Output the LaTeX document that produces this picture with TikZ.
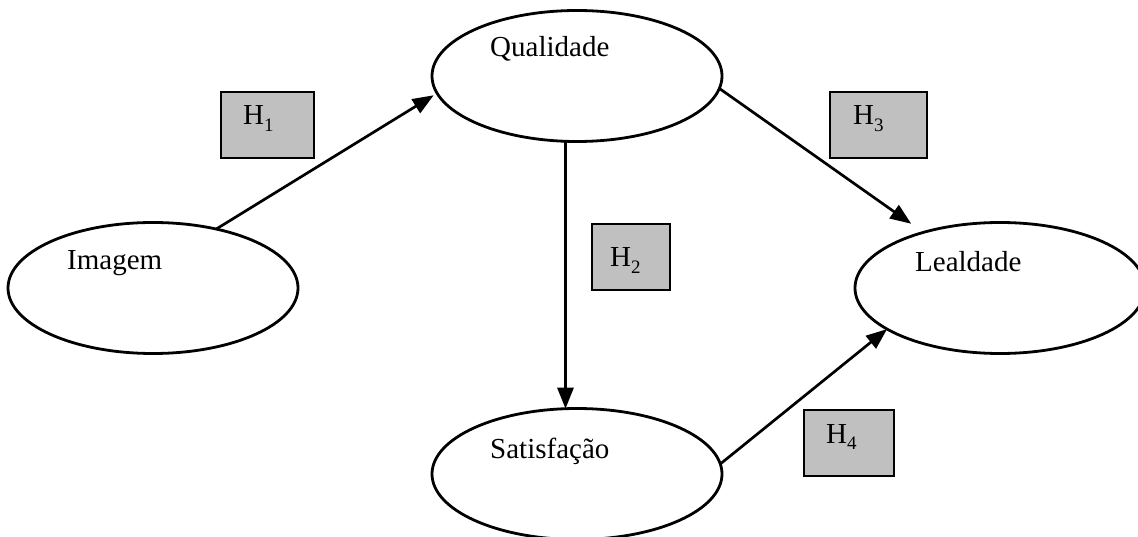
\documentclass[tikz,border=0pt]{standalone}
\usepackage{fontspec}
\setmainfont{Liberation Serif}
\usetikzlibrary{shapes.geometric,arrows.meta}
\definecolor{boxgray}{RGB}{192,192,192}
\newcommand{\hyp}[1]{H\raisebox{-6.5pt}{\fontsize{19}{19}\selectfont #1}}
\begin{document}
\begin{tikzpicture}[x=1pt,y=-1pt,
  construct/.style={ellipse,draw,line width=2.8pt,minimum width=290pt,minimum height=131pt,inner sep=0pt,outer sep=0pt},
  lbl/.style={anchor=base west,inner sep=0pt,font=\fontsize{29}{34}\selectfont},
  hbox/.style={draw,line width=2.8pt,fill=boxgray,inner sep=0pt,outer sep=0pt,minimum height=66pt},
  link/.style={line width=2.7pt,-{Triangle[length=21pt,width=16pt]}}
]
\clip (0,0) rectangle (1138,537);
\fill[white] (0,0) rectangle (1138,537);

% constructs
\node[construct] (imagem) at (153,288) {};
\node[construct] (qual) at (577,76) {};
\node[construct] (leal) at (1000,288) {};
\node[construct] (sat) at (577,474) {};

\node[lbl] (imagemT) at (67,270) {Imagem};
\node[lbl] (qualT) at (490,57) {Qualidade};
\node[lbl] (lealT) at (915,272) {Lealdade};
\node[lbl] (satT) at (490,458) {Satisfação};

% hypothesis boxes
\node[hbox,minimum width=93pt] (h1) at (267.5,125) {};
\node[hbox,minimum width=78pt] (h2) at (631,257) {};
\node[hbox,minimum width=97pt] (h3) at (878.5,125) {};
\node[hbox,minimum width=90pt] (h4) at (849,443) {};

\node[lbl] (h1T) at (243,125) {\hyp{1}};
\node[lbl] (h2T) at (610,267) {\hyp{2}};
\node[lbl] (h3T) at (853,125) {\hyp{3}};
\node[lbl] (h4T) at (826,443) {\hyp{4}};

% paths
\draw[link,shorten >=4pt] (imagem.43) -- (qual.187);
\draw[link] (qual.260) -- (sat.100);
\draw[link,shorten >=15pt] (qual.-5.5) -- (leal.144);
\draw[link] (sat.4) -- (leal.200);
\end{tikzpicture}
\end{document}
